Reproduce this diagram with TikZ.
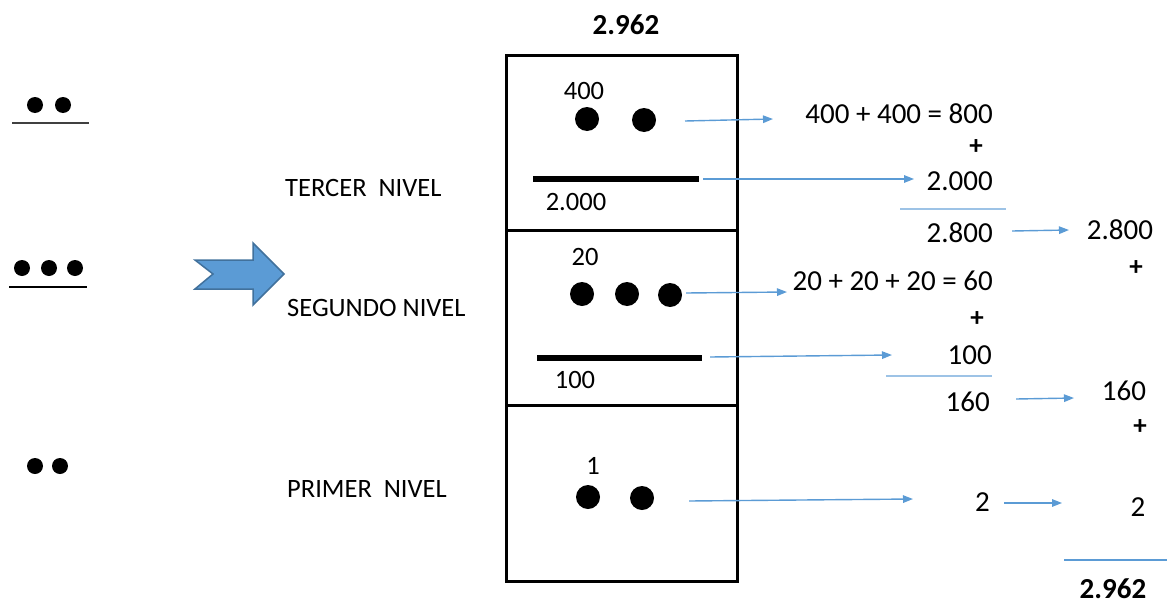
\documentclass[tikz,border=0pt]{standalone}
\usepackage{fontspec}
\setmainfont{Carlito}
\usetikzlibrary{arrows.meta}
\definecolor{ablue}{HTML}{5B9BD5}
\definecolor{aborder}{HTML}{41719C}
\definecolor{thinline}{HTML}{9DC3E6}
\begin{document}
\begin{tikzpicture}[x=1pt,y=-1pt,
  bigdot/.style={circle, fill=black, inner sep=0pt, minimum size=24pt},
  smalldot/.style={circle, fill=black, inner sep=0pt, minimum size=16pt},
  txt/.style={inner sep=0pt, font=\fontsize{26.5}{30}\selectfont},
  rtxt/.style={inner sep=0pt, font=\fontsize{29}{32}\selectfont},
  btxt/.style={inner sep=0pt, font=\fontsize{29}{32}\selectfont\bfseries},
  ptxt/.style={inner sep=0pt, font=\fontsize{27}{32}\selectfont\bfseries},
  conn/.style={draw=ablue, line width=1.4pt, -{Triangle[length=10pt,width=7.5pt]}},
  sumline/.style={draw=thinline, line width=1.2pt},
  boxline/.style={draw=black, line width=3pt},
  bar/.style={draw=black, line width=6pt}]
\useasboundingbox (0,0) rectangle (1167,605);

% left symbols
\node[smalldot] (l1a) at (35,105) {};
\node[smalldot] (l1b) at (63,105) {};
\draw[draw=black!75, line width=1.5pt] (12,123) -- (89,123);
\node[smalldot] (l2a) at (22,268) {};
\node[smalldot] (l2b) at (49,268) {};
\node[smalldot] (l2c) at (75,268) {};
\draw[draw=black, line width=1.5pt] (9,287) -- (87,287);
\node[smalldot] (l3a) at (35,466) {};
\node[smalldot] (l3b) at (60,466) {};

% block arrow
\draw[fill=ablue, draw=aborder, line width=1.5pt]
  (195,260) -- (253,260) -- (253,243) -- (284,274) -- (253,305) -- (253,289)
  -- (195,289) -- (213,274) -- cycle;

% level labels
\node[txt, anchor=west] (t3) at (285,188) {TERCER\hspace{0.45em}NIVEL};
\node[txt, anchor=west] (t2) at (287,308) {SEGUNDO NIVEL};
\node[txt, anchor=west] (t1) at (287,489) {PRIMER\hspace{0.45em}NIVEL};

% top total
\node[btxt] (total) at (626,25) {2.962};

% box
\draw[boxline] (506,55) rectangle (737,581);
\draw[boxline] (506,230) -- (737,230);
\draw[boxline] (506,405) -- (737,405);

% third level
\node[txt] (n400) at (584,91) {400};
\node[bigdot] (d3a) at (587,119) {};
\node[bigdot] (d3b) at (644,120) {};
\draw[bar] (533,179) -- (699,179);
\node[txt] (n2000) at (576,202) {2.000};

% second level
\node[txt] (n20) at (585,257) {20};
\node[bigdot] (d2a) at (582,294) {};
\node[bigdot] (d2b) at (627,294) {};
\node[bigdot] (d2c) at (670,295) {};
\draw[bar] (537,358) -- (702,358);
\node[txt] (n100) at (575,380) {100};

% first level
\node[txt] (n1) at (593,466) {1};
\node[bigdot] (d1a) at (588,497) {};
\node[bigdot] (d1b) at (642,498) {};

% right column calculations
\node[rtxt, anchor=east] (e800) at (993,114) {400 + 400 = 800};
\node[ptxt] (p1) at (976,147) {+};
\node[rtxt, anchor=east] (e2000) at (993,181) {2.000};
\draw[sumline] (900,209) -- (1006,209);
\node[rtxt, anchor=east] (e2800) at (993,233) {2.800};

\node[rtxt, anchor=east] (e60) at (993,281) {20 + 20 + 20 = 60};
\node[ptxt] (p2) at (977,319) {+};
\node[rtxt, anchor=east] (e100) at (992,355) {100};
\draw[sumline] (886,376) -- (992,376);
\node[rtxt, anchor=east] (e160) at (990,402) {160};

\node[rtxt, anchor=east] (e2) at (990,502) {2};

% final column
\node[rtxt] (f2800) at (1120,230) {2.800};
\node[ptxt] (p3) at (1136,268) {+};
\node[rtxt] (f160) at (1124,391) {160};
\node[ptxt] (p4) at (1140,427) {+};
\node[rtxt] (f2) at (1138,507) {2};
\draw[sumline, draw=ablue] (1064,560) -- (1167,560);
\node[btxt] (ftotal) at (1113,589) {2.962};

% connector coordinates
\coordinate (s1) at (685,121); \coordinate (t1e) at (773,119);
\coordinate (s2) at (703,179); \coordinate (t2e) at (914,179);
\coordinate (s3) at (686,293); \coordinate (t3e) at (787,292);
\coordinate (s4) at (710,357); \coordinate (t4e) at (892,355);
\coordinate (s5) at (689,501); \coordinate (t5e) at (913,499);
\coordinate (s6) at (1012,231); \coordinate (t6e) at (1069,230);
\coordinate (s7) at (1016,399); \coordinate (t7e) at (1074,398);
\coordinate (s8) at (1004,503); \coordinate (t8e) at (1062,503);

\draw[conn] (s1) -- (t1e);
\draw[conn] (s2) -- (t2e);
\draw[conn] (s3) -- (t3e);
\draw[conn] (s4) -- (t4e);
\draw[conn] (s5) -- (t5e);
\draw[conn] (s6) -- (t6e);
\draw[conn] (s7) -- (t7e);
\draw[conn] (s8) -- (t8e);
\end{tikzpicture}
\end{document}
